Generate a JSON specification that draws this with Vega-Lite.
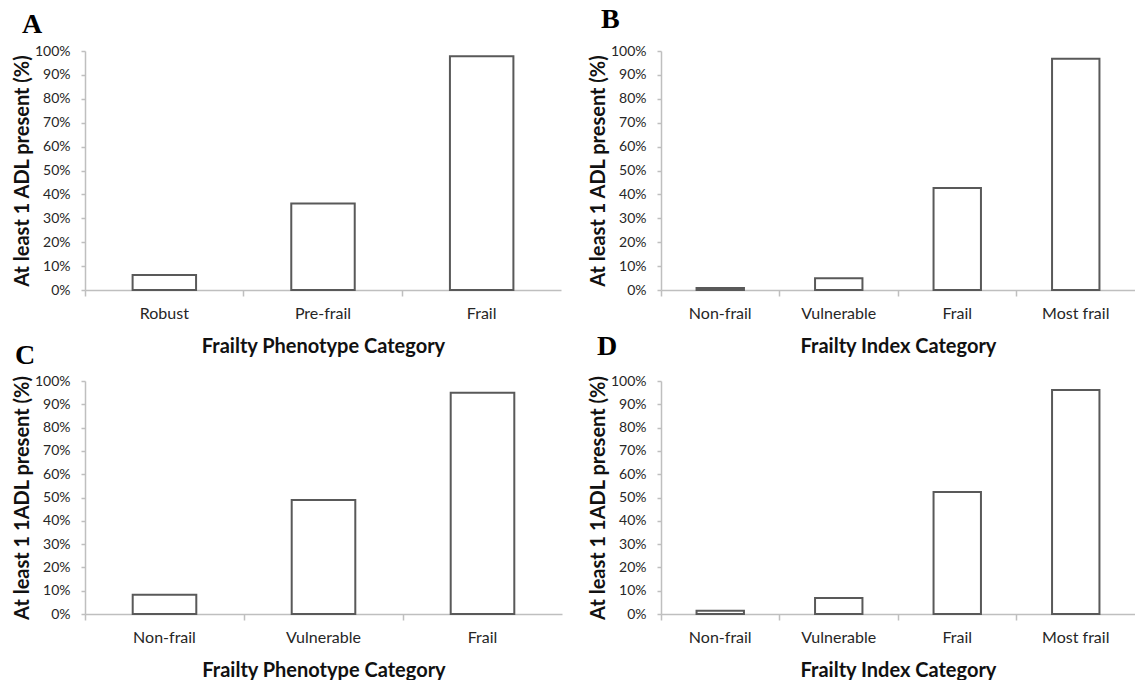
{
  "$schema": "https://vega.github.io/schema/vega-lite/v6.json",
  "background": "white",
  "padding": {"left": 12, "top": 6, "right": 0, "bottom": 0},
  "autosize": {"type": "pad"},
  "config": {
    "view": {"stroke": null},
    "font": "Lato",
    "axis": {
      "domainColor": "#bfbfbf",
      "tickColor": "#bfbfbf",
      "domainWidth": 1.5,
      "tickWidth": 1.5,
      "labelColor": "#262626",
      "titleColor": "#111111",
      "labelFont": "Lato",
      "titleFont": "Lato",
      "titleFontWeight": "bold",
      "titleFontSize": 20,
      "grid": false
    },
    "axisX": {"labelFontSize": 16, "tickSize": 6, "labelPadding": 9, "titlePadding": 15, "labelAngle": 0, "ticks": true},
    "axisY": {"labelFontSize": 14, "tickSize": 4, "labelPadding": 11, "titlePadding": 2},
    "title": {"font": "Liberation Serif", "fontSize": 28, "fontWeight": "bold", "anchor": "start", "frame": "group", "color": "#000000"}
  },
  "datasets": {
    "A": [
      {"category": "Robust", "value": 6.3},
      {"category": "Pre-frail", "value": 36.2},
      {"category": "Frail", "value": 97.8}
    ],
    "B": [
      {"category": "Non-frail", "value": 0.8},
      {"category": "Vulnerable", "value": 4.9},
      {"category": "Frail", "value": 42.7},
      {"category": "Most frail", "value": 96.8}
    ],
    "C": [
      {"category": "Non-frail", "value": 8.3},
      {"category": "Vulnerable", "value": 48.9},
      {"category": "Frail", "value": 95.0}
    ],
    "D": [
      {"category": "Non-frail", "value": 1.4},
      {"category": "Vulnerable", "value": 6.9},
      {"category": "Frail", "value": 52.4},
      {"category": "Most frail", "value": 96.1}
    ]
  },
  "bounds": "flush",
  "columns": 2,
  "spacing": {"row": 91, "column": 99},
  "concat": [
    {
      "data": {"name": "A"},
      "width": 476,
      "height": 239,
      "title": {"text": "A", "dx": -63, "offset": 5},
      "mark": {"type": "bar", "fill": "white", "stroke": "#595959", "strokeWidth": 2},
      "encoding": {
        "x": {"field": "category", "type": "nominal", "sort": null,
              "scale": {"paddingInner": 0.6, "paddingOuter": 0.3},
              "axis": {"title": "Frailty Phenotype Category", "bandPosition": -0.75}},
        "y": {"field": "value", "type": "quantitative",
              "scale": {"domain": [0, 100], "nice": false},
              "axis": {"title": "At least 1 ADL present (%)", "values": [0,10,20,30,40,50,60,70,80,90,100], "labelExpr": "datum.value + '%'"}}
      }
    },
    {
      "data": {"name": "B"},
      "width": 474,
      "height": 239,
      "title": {"text": "B", "dx": -60, "offset": 10},
      "mark": {"type": "bar", "fill": "white", "stroke": "#595959", "strokeWidth": 2},
      "encoding": {
        "x": {"field": "category", "type": "nominal", "sort": null,
              "scale": {"paddingInner": 0.6, "paddingOuter": 0.3},
              "axis": {"title": "Frailty Index Category", "bandPosition": -0.75}},
        "y": {"field": "value", "type": "quantitative",
              "scale": {"domain": [0, 100], "nice": false},
              "axis": {"title": "At least 1 ADL present (%)", "values": [0,10,20,30,40,50,60,70,80,90,100], "labelExpr": "datum.value + '%'"}}
      }
    },
    {
      "data": {"name": "C"},
      "width": 477,
      "height": 233,
      "title": {"text": "C", "dx": -70, "offset": 4},
      "mark": {"type": "bar", "fill": "white", "stroke": "#595959", "strokeWidth": 2},
      "encoding": {
        "x": {"field": "category", "type": "nominal", "sort": null,
              "scale": {"paddingInner": 0.6, "paddingOuter": 0.3},
              "axis": {"title": "Frailty Phenotype Category", "bandPosition": -0.75}},
        "y": {"field": "value", "type": "quantitative",
              "scale": {"domain": [0, 100], "nice": false},
              "axis": {"title": "At least 1 1ADL present (%)", "values": [0,10,20,30,40,50,60,70,80,90,100], "labelExpr": "datum.value + '%'"}}
      }
    },
    {
      "data": {"name": "D"},
      "width": 474,
      "height": 233,
      "title": {"text": "D", "dx": -64, "offset": 13},
      "mark": {"type": "bar", "fill": "white", "stroke": "#595959", "strokeWidth": 2},
      "encoding": {
        "x": {"field": "category", "type": "nominal", "sort": null,
              "scale": {"paddingInner": 0.6, "paddingOuter": 0.3},
              "axis": {"title": "Frailty Index Category", "bandPosition": -0.75}},
        "y": {"field": "value", "type": "quantitative",
              "scale": {"domain": [0, 100], "nice": false},
              "axis": {"title": "At least 1 1ADL present (%)", "values": [0,10,20,30,40,50,60,70,80,90,100], "labelExpr": "datum.value + '%'"}}
      }
    }
  ]
}
